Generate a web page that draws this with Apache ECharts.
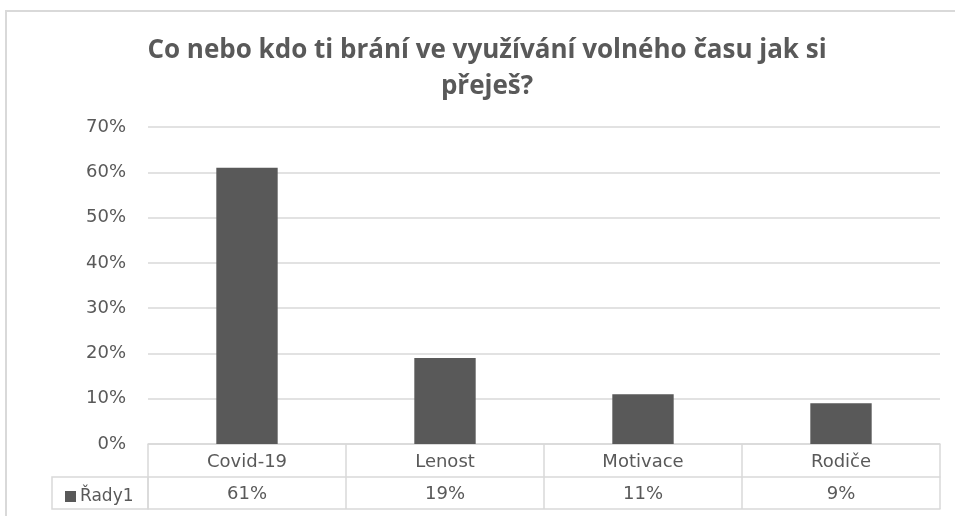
<!DOCTYPE html>
<html>
<head>
<meta charset="utf-8">
<script src="https://cdn.jsdelivr.net/npm/echarts@6/dist/echarts.min.js"></script>
<style>
  html, body { margin: 0; padding: 0; background: #fff; }
  #draw { width: 955px; height: 516px; }
</style>
</head>
<body>
<div id="draw"></div>
<script>
var categories = ["Covid-19", "Lenost", "Motivace", "Rodiče"];
var values = [0.61, 0.19, 0.11, 0.09];
var seriesName = "Řady1";
var titleText = "Co nebo kdo ti brání ve využívání volného času jak si\npřeješ?";

var chart = echarts.init(document.getElementById("draw"));
var gray = "#595959";
var lineGray = "#d9d9d9";
var font = "'DejaVu Sans', sans-serif";

function pct(v) {
  return Math.round(v * 100) + "%";
}

var option = {
  animation: false,
  backgroundColor: "#fff",
  title: {
    text: titleText,
    left: 482,
    textAlign: "center",
    top: 28,
    textStyle: {
      color: gray,
      fontFamily: "'Open Sans', sans-serif",
      fontSize: 26,
      fontWeight: "bold",
      lineHeight: 36
    }
  },
  legend: {
    left: 60,
    top: 483,
    itemWidth: 11,
    itemHeight: 11,
    itemGap: 4,
    icon: "rect",
    data: [seriesName],
    textStyle: { color: gray, fontSize: 17, fontFamily: font, padding: [0, 0, 0, -1] }
  },
  grid: {
    left: 148,
    right: 15,
    top: 127,
    bottom: 72,
    containLabel: false
  },
  xAxis: [
    {
      type: "category",
      data: categories,
      axisLine: { show: true, lineStyle: { color: lineGray, width: 1.5 } },
      axisTick: { show: true, alignWithLabel: false, length: 65, lineStyle: { color: lineGray, width: 1.5 } },
      axisLabel: { color: gray, fontSize: 18, fontFamily: font, margin: 9, interval: 0 }
    },
    {
      type: "category",
      position: "bottom",
      offset: 33,
      data: values.map(pct),
      axisLine: { show: true, lineStyle: { color: lineGray, width: 1.5 } },
      axisTick: { show: false },
      axisLabel: { color: gray, fontSize: 18, fontFamily: font, margin: 8, interval: 0 }
    },
    {
      type: "category",
      position: "bottom",
      offset: 65,
      data: categories,
      axisLine: { show: true, lineStyle: { color: lineGray, width: 1.5 } },
      axisTick: { show: false },
      axisLabel: { show: false }
    }
  ],
  yAxis: {
    type: "value",
    min: 0,
    max: 0.7,
    interval: 0.1,
    axisLine: { show: false },
    axisTick: { show: false },
    splitLine: { show: true, lineStyle: { color: lineGray, width: 1.5 } },
    axisLabel: {
      color: gray,
      fontSize: 18,
      fontFamily: font,
      margin: 22,
      formatter: function (v) { return pct(v); }
    }
  },
  series: [
    {
      name: seriesName,
      type: "bar",
      data: values,
      barWidth: "31%",
      itemStyle: { color: gray }
    }
  ],
  graphic: [
    {
      type: "rect",
      shape: { x: 6, y: 11, width: 960, height: 520 },
      style: { fill: "none", stroke: lineGray, lineWidth: 2 },
      silent: true
    },
    {
      type: "rect",
      shape: { x: 52, y: 477, width: 96, height: 32 },
      style: { fill: "none", stroke: lineGray, lineWidth: 1.5 },
      silent: true
    }
  ]
};

chart.setOption(option);
</script>
</body>
</html>
